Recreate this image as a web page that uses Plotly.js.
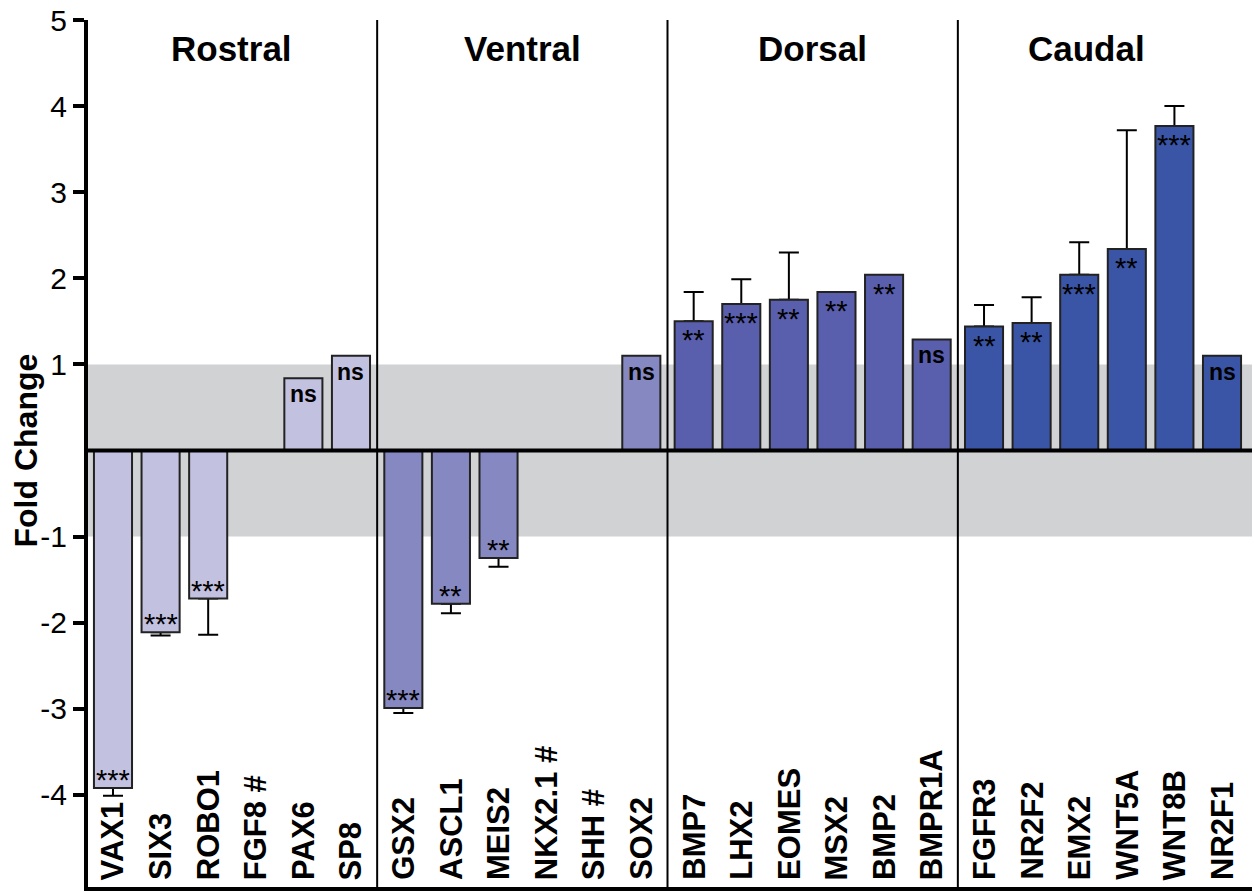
<!DOCTYPE html>
<html><head><meta charset="utf-8">
<script src="https://cdn.plot.ly/plotly-3.0.1.min.js"></script>
<style>html,body{margin:0;padding:0;background:#fff}#chart{width:1254px;height:892px}</style>
</head><body><div id="chart"></div>
<script>
// ---- data ----
const genes = ['VAX1','SIX3','ROBO1','FGF8 #','PAX6','SP8','GSX2','ASCL1','MEIS2','NKX2.1 #','SHH #','SOX2','BMP7','LHX2','EOMES','MSX2','BMP2','BMPR1A','FGFR3','NR2F2','EMX2','WNT5A','WNT8B','NR2F1'];
const groupOf = [0,0,0,0,0,0,1,1,1,1,1,1,2,2,2,2,2,2,3,3,3,3,3,3];
const groupNames = ['Rostral','Ventral','Dorsal','Caudal'];
const foldChange = [-3.92,-2.11,-1.72,null,0.84,1.10,-2.99,-1.78,-1.25,null,null,1.10,1.50,1.70,1.75,1.84,2.04,1.29,1.44,1.48,2.04,2.34,3.77,1.10];
const sem = [0.09,0.04,0.42,NaN,NaN,NaN,0.06,0.11,0.10,NaN,NaN,NaN,0.34,0.29,0.55,NaN,NaN,NaN,0.25,0.30,0.38,1.38,0.23,NaN];
const significance = ['***','***','***','','ns','ns','***','**','**','','','ns','**','***','**','**','**','ns','**','**','***','**','***','ns'];
const yTickVals = [-4,-3,-2,-1,1,2,3,4,5];
const yTickText = ['-4','-3','-2','-1','1','2','3','4','5'];

// ---- styles ----
const groupColors = ['#c3c1e0','#8688c2','#5a5fad','#3b55a6'];
const GROUP_GAP = 0.1;
const FONT = 'Liberation Sans, Arial, Helvetica, sans-serif';
const NARROW = 'Liberation Sans Narrow, Arial Narrow, Liberation Sans, Arial, sans-serif';

const xpos = genes.map((g,i) => i + groupOf[i]*GROUP_GAP);
const barColors = groupOf.map(g => groupColors[g]);
const errPlus = foldChange.map((v,i) => (v !== null && v > 0) ? sem[i] : (isNaN(sem[i]) ? NaN : 0));
const errMinus = foldChange.map((v,i) => (v !== null && v < 0) ? sem[i] : (isNaN(sem[i]) ? NaN : 0));

const errTrace = {
  type:'bar', x:xpos, y:foldChange, width:0.8,
  marker:{color:'rgba(0,0,0,0)', line:{width:0}},
  error_y:{type:'data', symmetric:false, array:errPlus, arrayminus:errMinus, color:'#000', thickness:2, width:10},
  hoverinfo:'skip'
};
const barTrace = {
  type:'bar', x:xpos, y:foldChange, width:0.8,
  marker:{color:barColors, line:{color:'#222', width:2}},
  hoverinfo:'skip'
};

const shapes = [
  {type:'rect', xref:'paper', x0:0, x1:1, yref:'y', y0:-1, y1:1, fillcolor:'#d1d2d4', line:{width:0}, layer:'below'}
];
for (let g = 0; g < groupNames.length - 1; g++) {
  const last = groupOf.lastIndexOf(g), first = groupOf.indexOf(g+1);
  const xm = (xpos[last] + xpos[first]) / 2;
  shapes.push({type:'line', xref:'x', x0:xm, x1:xm, yref:'paper', y0:0, y1:1, line:{color:'#000', width:2}, layer:'above'});
}
shapes.push({type:'line', xref:'paper', x0:0, x1:1, yref:'y', y0:0, y1:0, line:{color:'#000', width:4}, layer:'above'});

const annotations = [];
// category labels
genes.forEach((g,i) => {
  annotations.push({text:'<b>'+g+'</b>', x:xpos[i], xref:'x', y:0, yref:'paper', xanchor:'center', yanchor:'bottom',
    yshift:5, textangle:-90, showarrow:false, font:{family:NARROW, size:31, color:'#000'}});
});
// significance
significance.forEach((s,i) => {
  const v = foldChange[i];
  if (!s || v === null) return;
  const pos = v > 0;
  const isNs = s === 'ns';
  annotations.push({text: isNs ? '<b>ns</b>' : s, x:xpos[i], xref:'x', y:v, yref:'y',
    xanchor:'center', yanchor: pos ? 'top' : 'bottom', yshift: pos ? -1 : -10, showarrow:false,
    font:{family:FONT, size: isNs ? 23 : 29, color:'#000'}});
});
// group titles
const titleShift = [0,0,0,-17];
groupNames.forEach((name,g) => {
  const idx = groupOf.map((gg,i)=>gg===g?i:-1).filter(i=>i>=0);
  const cx = idx.reduce((a,i)=>a+xpos[i],0)/idx.length;
  annotations.push({text:'<b>'+name+'</b>', x:cx, xref:'x', y:4.67, yref:'y', xanchor:'center', yanchor:'middle',
    xshift:titleShift[g], showarrow:false, font:{family:FONT, size:35, color:'#000'}});
});
// y axis title
annotations.push({text:'<b>Fold Change</b>', x:0, xref:'paper', xshift:-62, y:0, yref:'y', xanchor:'center', yanchor:'middle',
  textangle:-90, showarrow:false, font:{family:FONT, size:32, color:'#000'}});

const layout = {
  width:1254, height:892, margin:{l:88, r:2, t:20, b:5},
  paper_bgcolor:'#fff', plot_bgcolor:'rgba(0,0,0,0)',
  barmode:'overlay', showlegend:false,
  font:{family:FONT, color:'#000'},
  xaxis:{range:[-0.525, 23.93], showline:true, linewidth:4, linecolor:'#000', showticklabels:false, ticks:'',
    showgrid:false, zeroline:false, fixedrange:true},
  yaxis:{range:[-5.07, 5], tickmode:'array', tickvals:yTickVals, ticktext:yTickText, ticks:'outside', ticklen:11, tickwidth:4,
    tickcolor:'#000', showline:true, linewidth:4, linecolor:'#000', showgrid:false, zeroline:false,
    tickfont:{family:FONT, size:30, color:'#000'}, fixedrange:true},
  shapes:shapes, annotations:annotations
};

Plotly.newPlot('chart', [errTrace, barTrace], layout, {staticPlot:true, displayModeBar:false});
</script>
</body></html>
